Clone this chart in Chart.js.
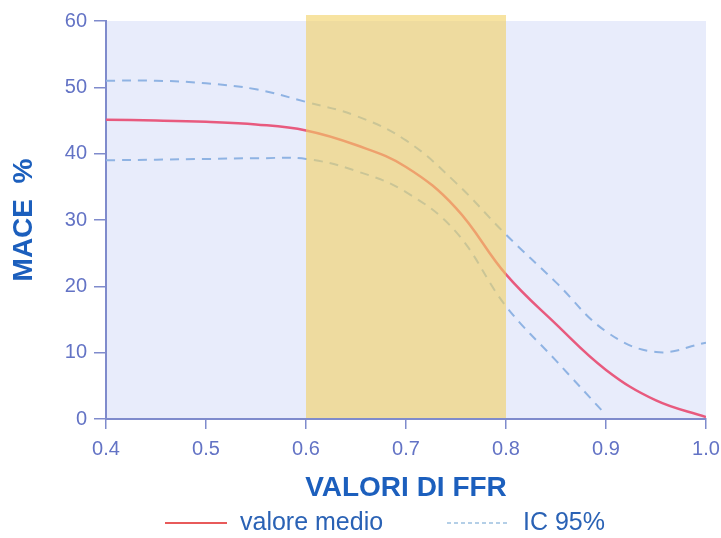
<!DOCTYPE html>
<html>
<head>
<meta charset="utf-8">
<script src="https://cdn.jsdelivr.net/npm/chart.js@4/dist/chart.umd.min.js"></script>
<style>
  html, body { margin: 0; padding: 0; background: #ffffff; }
  #wrap { width: 721px; height: 538px; }
</style>
</head>
<body>
<div id="wrap"><canvas id="chartMace" width="721" height="538"></canvas></div>
<script>
var ffr = [0.4, 0.45, 0.5, 0.55, 0.6, 0.65, 0.7, 0.75, 0.8, 0.85, 0.9, 0.95, 1.0];
var valoreMedio = [45.1, 45.0, 44.8, 44.4, 43.5, 41.3, 38.0, 31.8, 21.8, 14.3, 7.4, 2.8, 0.3];
var icSup = [51.0, 51.0, 50.6, 49.7, 47.8, 45.7, 42.0, 35.6, 27.8, 20.6, 13.2, 10.1, 11.5];
var icInf = [39.0, 39.1, 39.2, 39.3, 39.2, 37.4, 34.2, 28.2, 17.0, 8.8, 0.6, null, null];
var yTicks = [0, 10, 20, 30, 40, 50, 60];
var banda = [0.6, 0.8];
var legendLabels = ['valore medio', 'IC 95%'];

var AXIS = '#7f8bcc';
var TICK = '#6373c5';
var TITLE = '#1c5fbd';
var FONT = "'Liberation Sans', Arial, sans-serif";

function toPoints(values) {
    return ffr.map(function (x, i) { return {x: x, y: values[i]}; });
}

var sfondo = {
    id: 'sfondo',
    beforeDraw: function (chart) {
        var a = chart.chartArea, ctx = chart.ctx;
        ctx.save();
        ctx.fillStyle = '#e8ecfb';
        ctx.fillRect(a.left, a.top, a.right - a.left, a.bottom - a.top);
        ctx.restore();
    },
    afterDatasetsDraw: function (chart) {
        var a = chart.chartArea, ctx = chart.ctx, x = chart.scales.x;
        var x0 = x.getPixelForValue(banda[0]);
        var x1 = x.getPixelForValue(banda[1]);
        ctx.save();
        ctx.fillStyle = 'rgba(242, 209, 99, 0.6)';
        ctx.fillRect(x0, a.top - 6, x1 - x0, a.bottom - a.top + 5);
        ctx.restore();
    },
    afterDraw: function (chart) {
        // legenda disegnata a mano per rispettare le posizioni
        var ctx = chart.ctx;
        var y = 523;
        ctx.save();
        ctx.lineWidth = 2;
        ctx.strokeStyle = '#e85a5a';
        ctx.beginPath();
        ctx.moveTo(165, y);
        ctx.lineTo(227, y);
        ctx.stroke();
        ctx.strokeStyle = '#9cc0e0';
        ctx.lineWidth = 1.5;
        ctx.setLineDash([4, 3]);
        ctx.beginPath();
        ctx.moveTo(447, y);
        ctx.lineTo(508, y);
        ctx.stroke();
        ctx.setLineDash([]);
        ctx.fillStyle = '#2a62b5';
        ctx.font = '25px ' + FONT;
        ctx.textBaseline = 'middle';
        ctx.fillText(legendLabels[0], 240, y);
        ctx.fillText(legendLabels[1], 523, y);
        ctx.restore();
    }
};

new Chart(document.getElementById('chartMace'), {
    type: 'line',
    data: {
        datasets: [{
            label: legendLabels[0],
            data: toPoints(valoreMedio),
            borderColor: '#e85a7e',
            borderWidth: 2.5,
            pointRadius: 0,
            tension: 0.4
        }, {
            label: legendLabels[1],
            data: toPoints(icSup),
            borderColor: '#8fb3e3',
            borderWidth: 2,
            borderDash: [9, 7],
            pointRadius: 0,
            tension: 0.4
        }, {
            label: legendLabels[1],
            data: toPoints(icInf),
            borderColor: '#8fb3e3',
            borderWidth: 2,
            borderDash: [9, 7],
            pointRadius: 0,
            spanGaps: false,
            tension: 0.4
        }]
    },
    options: {
        responsive: false,
        animation: false,
        layout: {padding: {top: 21, right: 15, left: 0, bottom: 0}},
        plugins: {legend: {display: false}, tooltip: {enabled: false}},
        scales: {
            x: {
                type: 'linear',
                min: 0.4,
                max: 1.0,
                afterFit: function (s) {
                    s.height = 119;
                    s.paddingRight = 0;
                    s.paddingLeft = 0;
                },
                ticks: {
                    stepSize: 0.1,
                    color: TICK,
                    padding: 8,
                    font: {family: FONT, size: 20},
                    callback: function (v) { return Number(v).toFixed(1); }
                },
                grid: {drawOnChartArea: false, tickLength: 10, color: AXIS, lineWidth: 1.5},
                border: {color: AXIS, width: 2},
                title: {
                    display: true,
                    text: 'VALORI DI FFR',
                    color: TITLE,
                    padding: {top: 0, bottom: 33},
                    font: {family: FONT, size: 28, weight: 'bold'}
                }
            },
            y: {
                min: 0,
                max: 60,
                afterFit: function (s) { s.width = 106; },
                afterBuildTicks: function (s) {
                    s.ticks = yTicks.map(function (v) { return {value: v}; });
                },
                ticks: {
                    color: TICK,
                    padding: 7,
                    font: {family: FONT, size: 20}
                },
                grid: {drawOnChartArea: false, tickLength: 12, color: AXIS, lineWidth: 1.5},
                border: {color: AXIS, width: 2},
                title: {
                    display: true,
                    text: 'MACE  %',
                    color: TITLE,
                    padding: {top: 7, bottom: 0},
                    font: {family: FONT, size: 28, weight: 'bold'}
                }
            }
        }
    },
    plugins: [sfondo]
});
</script>
</body>
</html>
